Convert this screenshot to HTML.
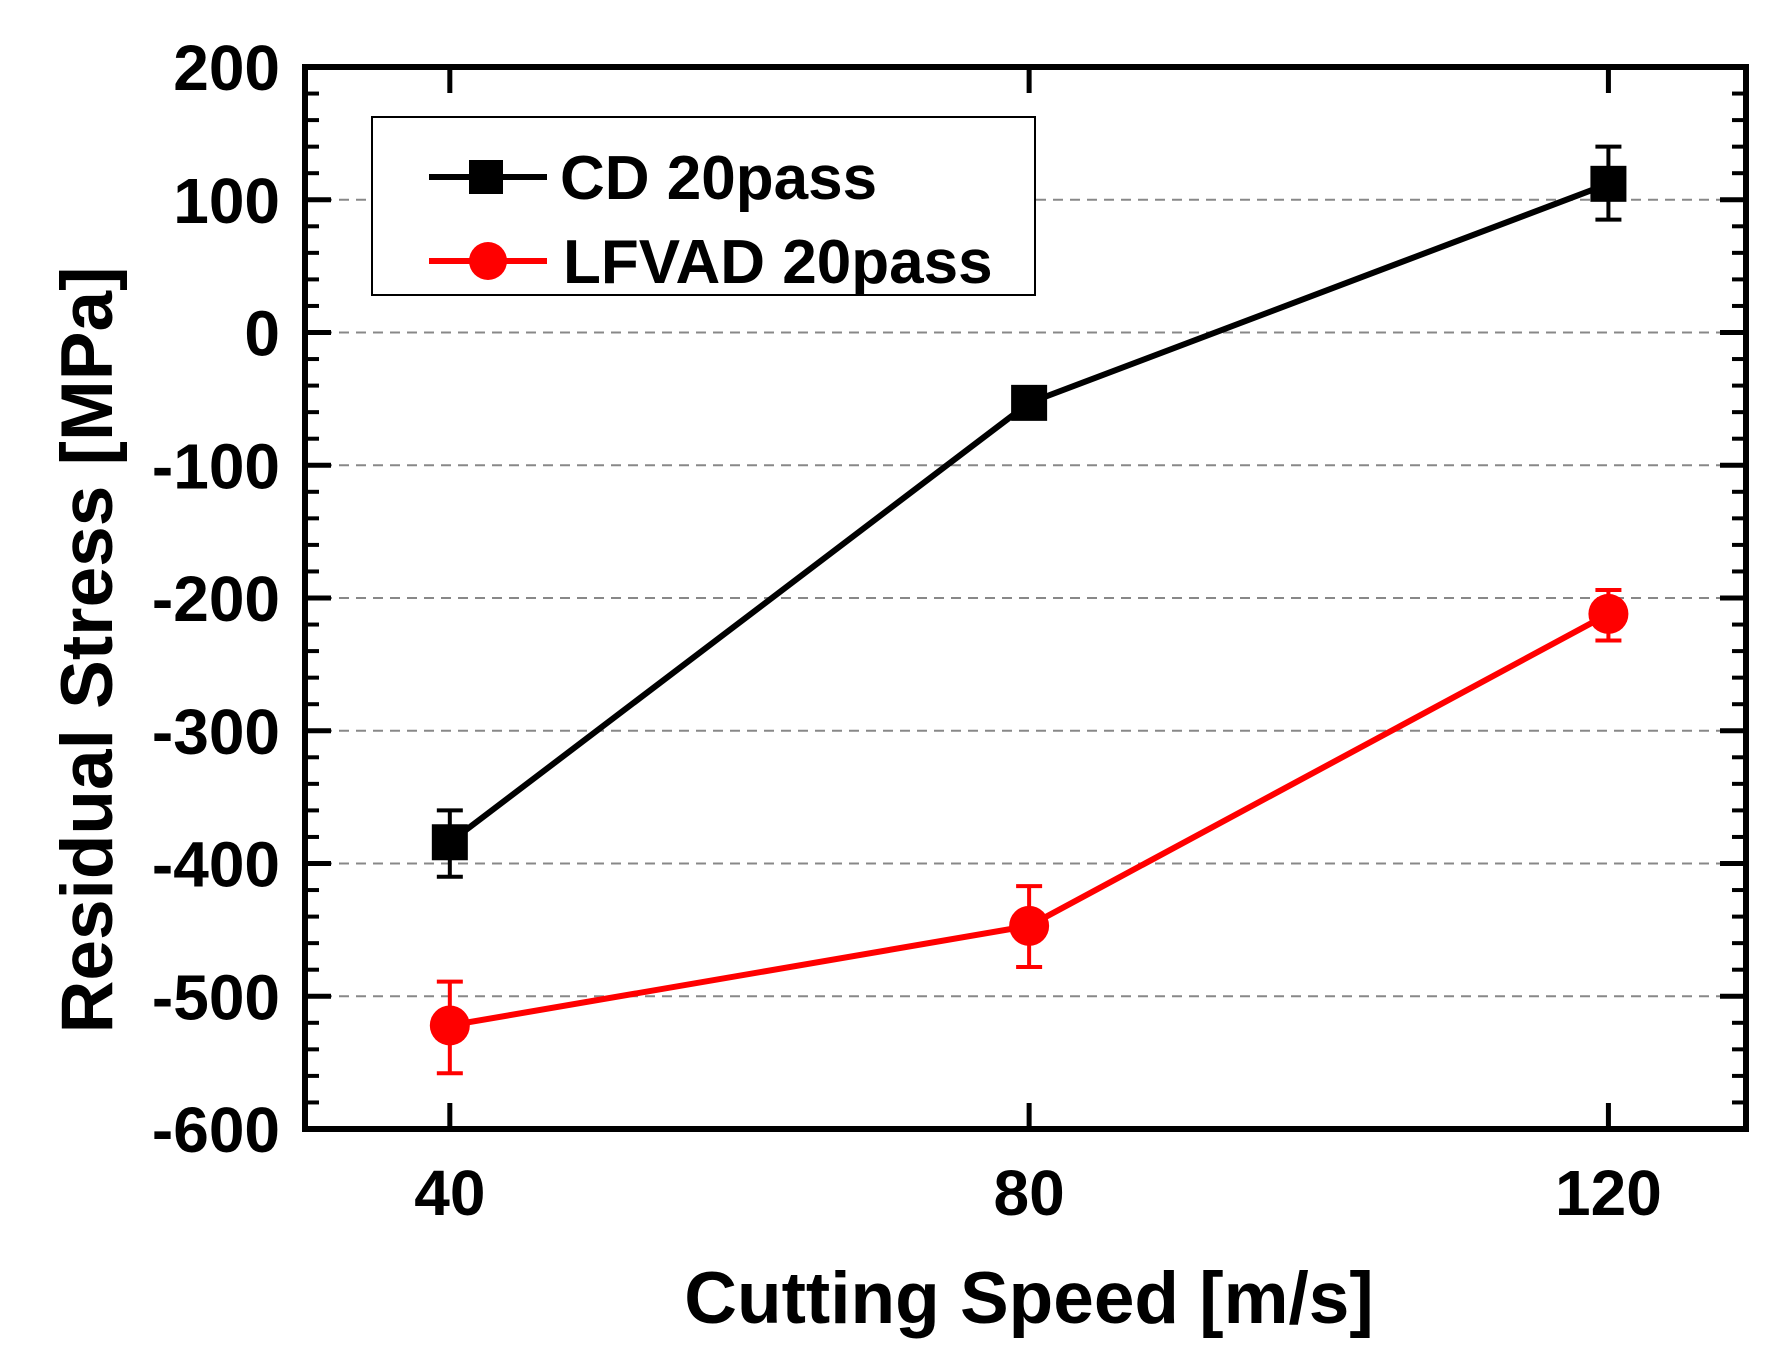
<!DOCTYPE html>
<html><head><meta charset="utf-8"><style>
body{margin:0;background:#fff;}
svg{display:block;font-family:"Liberation Sans",Arial,sans-serif;font-weight:bold;}
</style></head><body>
<svg id="chart" width="1785" height="1371" viewBox="0 0 1785 1371" xmlns="http://www.w3.org/2000/svg">
<rect x="0" y="0" width="1785" height="1371" fill="#fff"/>
<g id="grid"></g><g id="axes"></g><g id="series"></g>
<g>
<rect x="372" y="117" width="663" height="178" fill="#fff" stroke="#000" stroke-width="2"/>
<line x1="429" y1="177" x2="547" y2="177" stroke="#000" stroke-width="6"/>
<rect x="469" y="160" width="34" height="34" fill="#000"/>
<text x="560" y="199" font-size="62" fill="#000">CD 20pass</text>
<line x1="429" y1="261" x2="547" y2="261" stroke="#f00" stroke-width="6"/>
<circle cx="488" cy="261" r="19" fill="#f00"/>
<text x="563" y="283" font-size="62" fill="#000">LFVAD 20pass</text>
</g>
<text x="1029" y="1323" font-size="73" text-anchor="middle" fill="#000">Cutting Speed [m/s]</text>
<text transform="translate(112,650) rotate(-90)" font-size="73" text-anchor="middle" fill="#000">Residual Stress [MPa]</text>
</svg>
<script>
const categories=[40,80,120];
const cdValues=[-384,-53,112];
const cdErrUp=[24,0,28];
const cdErrDown=[26,0,27];
const lfvadValues=[-522,-447,-212];
const lfvadErrUp=[33,30,18];
const lfvadErrDown=[36,31,20];
const yTicks=[200,100,0,-100,-200,-300,-400,-500,-600];
const xTicks=[40,80,120];

const L=305,R=1746,T=67,B=1129;
const xMin=30,xMax=129.5,yMin=-600,yMax=200;
const xs=v=>L+(v-xMin)/(xMax-xMin)*(R-L);
const ys=v=>B-(v-yMin)/(yMax-yMin)*(B-T);
const NS="http://www.w3.org/2000/svg";
function mk(tag,attrs,parent){const e=document.createElementNS(NS,tag);for(const k in attrs)e.setAttribute(k,attrs[k]);parent.appendChild(e);return e;}
const grid=document.getElementById('grid'),axes=document.getElementById('axes'),series=document.getElementById('series');

yTicks.forEach(v=>{
  if(v<yMax&&v>yMin){const g=mk('line',{x1:L,x2:R,y1:ys(v),y2:ys(v),stroke:'#888','stroke-width':2,'stroke-dasharray':'10,7'},grid);
  
  }
  const t=mk('text',{x:L-25,y:ys(v)+23,'font-size':64,'text-anchor':'end',fill:'#000'},axes);
  t.textContent=v;
  
  
  mk('line',{x1:L,x2:L+26,y1:ys(v),y2:ys(v),stroke:'#000','stroke-width':5},axes);
  mk('line',{x1:R,x2:R-26,y1:ys(v),y2:ys(v),stroke:'#000','stroke-width':5},axes);
});
for(let v=yMin+20;v<yMax;v+=20){if(v%100===0)continue;
  mk('line',{x1:L,x2:L+14,y1:ys(v),y2:ys(v),stroke:'#000','stroke-width':4},axes);
  mk('line',{x1:R,x2:R-14,y1:ys(v),y2:ys(v),stroke:'#000','stroke-width':4},axes);}
xTicks.forEach(v=>{
  mk('line',{x1:xs(v),x2:xs(v),y1:B,y2:B-26,stroke:'#000','stroke-width':5},axes);
  mk('line',{x1:xs(v),x2:xs(v),y1:T,y2:T+26,stroke:'#000','stroke-width':5},axes);
  const t=mk('text',{x:xs(v),y:B+86,'font-size':64,'text-anchor':'middle',fill:'#000'},axes);
  t.textContent=v;
  
  
});
const frame=mk('rect',{x:L,y:T,width:R-L,height:B-T,fill:'none',stroke:'#000','stroke-width':6},axes);



function drawSeries(vals,up,down,color,shape,name){
  const pts=categories.map((c,i)=>xs(c)+','+ys(vals[i])).join(' ');
  const pl=mk('polyline',{points:pts,fill:'none',stroke:color,'stroke-width':6},series);
  
  
  categories.forEach((c,i)=>{
    const x=xs(c),y=ys(vals[i]);
    if(up[i]||down[i]){
      const yt=ys(vals[i]+up[i]),yb=ys(vals[i]-down[i]);
      const eb=mk('path',{d:`M${x},${yt}V${yb}M${x-13},${yt}H${x+13}M${x-13},${yb}H${x+13}`,stroke:color,'stroke-width':4,fill:'none'},series);
      
      
    }
    let m;
    if(shape==='square')m=mk('rect',{x:x-18,y:y-18,width:36,height:36,fill:color},series);
    else m=mk('circle',{cx:x,cy:y,r:20,fill:color},series);
    
    
  });
}
drawSeries(cdValues,cdErrUp,cdErrDown,'#000','square','cd');
drawSeries(lfvadValues,lfvadErrUp,lfvadErrDown,'#f00','circle','lfvad');
</script>
</body></html>
